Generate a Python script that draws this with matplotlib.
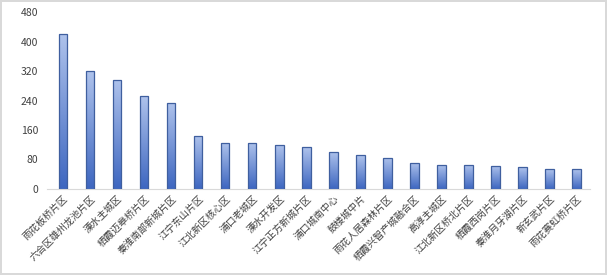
import matplotlib
matplotlib.use("Agg")
from matplotlib import pyplot as plt
import numpy as np

plt.rcParams['font.family'] = ['Noto Sans CJK SC', 'DejaVu Sans']

# data
areas = ["雨花板桥片区", "六合区雄州龙池片区", "溧水主城区", "栖霞迈皋桥片区", "秦淮南部新城片区",
         "江宁东山片区", "江北新区核心区", "浦口老城区", "溧水开发区", "江宁正方新城片区",
         "浦口城南中心", "鼓楼城中片", "雨花人居森林片区", "栖霞兴智产城融合区", "高淳主城区",
         "江北新区桥北片区", "栖霞西岗片区", "秦淮月牙湖片区", "新玄武片区", "雨花赛虹桥片区"]
values = [421, 319, 297, 251, 234, 145, 125, 125, 120, 113,
          101, 91, 85, 71, 66, 66, 63, 59, 53, 53]
yticks = [0, 80, 160, 240, 320, 400, 480]

fig = plt.figure(figsize=(6.07, 2.75), dpi=100)
fig.patch.set_edgecolor('#d9d9d9')
fig.patch.set_linewidth(1.5)
ax = fig.add_axes([0.077, 0.313, 0.895, 0.643])

x = np.arange(len(areas))
bars = ax.bar(x, values, width=0.32, color='none', edgecolor='#3f5f9f', linewidth=0.9, zorder=3)

# vertical gradient inside each bar
grad = np.linspace(0, 1, 256).reshape(-1, 1)
cmap = matplotlib.colors.LinearSegmentedColormap.from_list('g', ['#3d66c0', '#afc3ec'])
for b in bars:
    x0, y0 = b.get_x(), b.get_y()
    w, h = b.get_width(), b.get_height()
    im = ax.imshow(grad, cmap=cmap, aspect='auto', origin='lower',
                   extent=[x0, x0 + w, y0, y0 + h], zorder=2)
    im.set_clip_path(b)

ax.set_xlim(-0.6, len(areas) - 0.5)
ax.set_ylim(0, 480)
ax.set_yticks(yticks)
ax.set_xticks(x)
ax.set_xticklabels(areas, rotation=45, ha='right', rotation_mode='anchor', fontsize=7, color='#404040')
ax.tick_params(axis='y', labelsize=7.5, labelcolor='#404040', length=0, pad=6)
ax.tick_params(axis='x', length=0, pad=3)

for s in ['top', 'right', 'left']:
    ax.spines[s].set_visible(False)
ax.spines['bottom'].set_color('#d9d9d9')

plt.savefig('out.png', dpi=100)
